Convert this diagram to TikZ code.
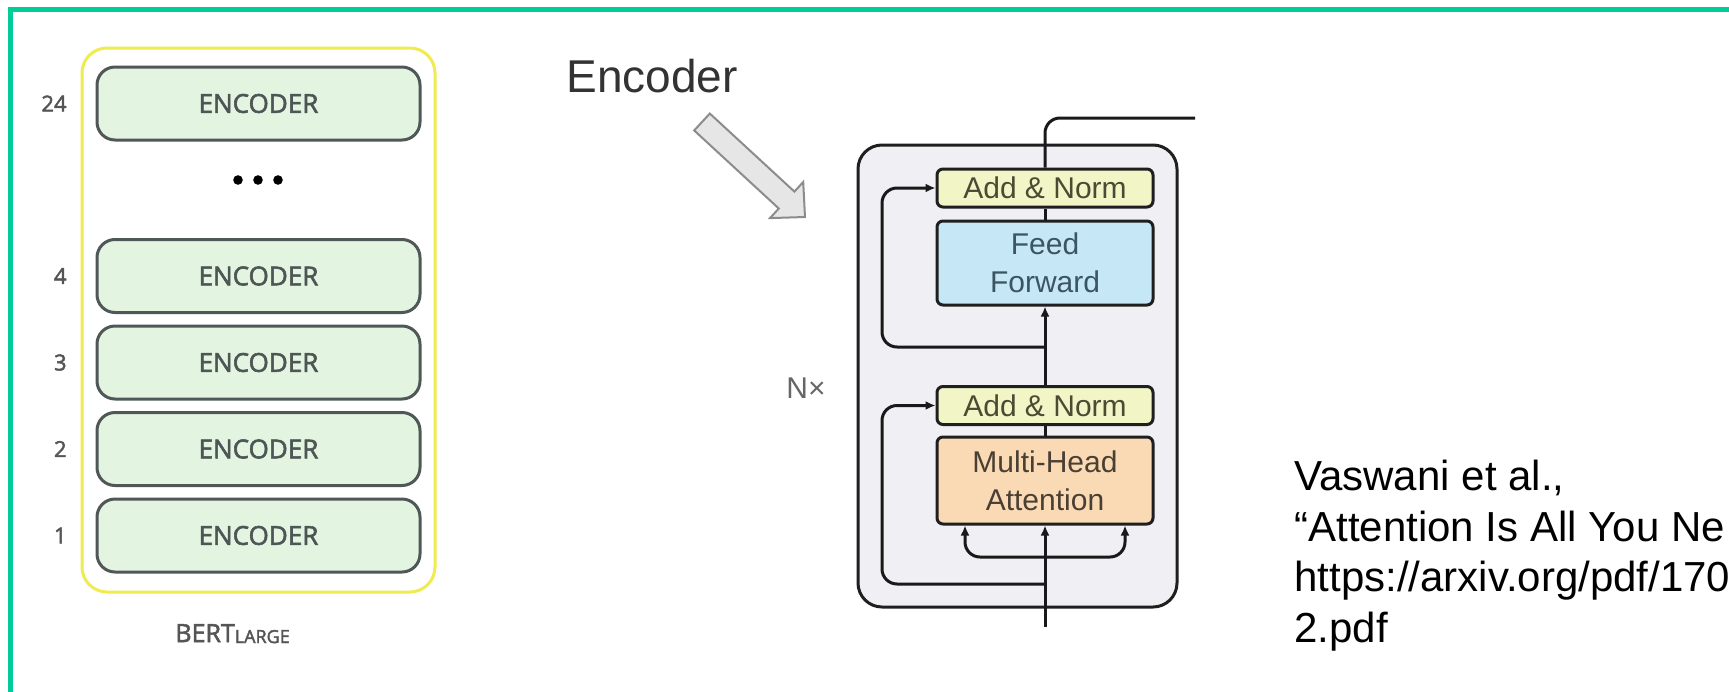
\documentclass[tikz,border=0pt]{standalone}
\usepackage{fontspec}
\setmainfont{Liberation Sans}
\newfontfamily\opensans{Open Sans}[FakeBold=2.2]
\usetikzlibrary{arrows.meta,calc}
\definecolor{framegreen}{HTML}{00CC99}
\definecolor{bertyellow}{HTML}{F0EC50}
\definecolor{encfill}{HTML}{E3F5E1}
\definecolor{encline}{HTML}{4F5757}
\definecolor{enctext}{HTML}{4D5555}
\definecolor{numtext}{HTML}{555555}
\definecolor{blockfill}{HTML}{EFEFF4}
\definecolor{anfill}{HTML}{F2F5C6}
\definecolor{antext}{HTML}{4B4B33}
\definecolor{fffill}{HTML}{C6E7F5}
\definecolor{fftext}{HTML}{3B5563}
\definecolor{mhafill}{HTML}{FAD9B5}
\definecolor{mhatext}{HTML}{4A3F33}
\definecolor{arrfill}{HTML}{E6E6E6}
\definecolor{arrline}{HTML}{8C8C8C}
\definecolor{titletext}{HTML}{333333}
\definecolor{nxtext}{HTML}{666666}
\begin{document}
\begin{tikzpicture}[x=0.5pt,y=-0.5pt,
  encbox/.style={draw=encline, fill=encfill, line width=1.5pt, rounded corners=9pt,
    minimum width=161.5pt, minimum height=36.5pt, inner sep=0pt,
    font=\opensans\fontsize{13}{15}\selectfont, text=enctext},
  numlab/.style={anchor=east, inner sep=0pt, font=\opensans\fontsize{11}{13}\selectfont, text=numtext},
  sublayer/.style={draw=black!88, line width=1.5pt, rounded corners=3pt,
    minimum width=108pt, inner sep=0pt, align=center,
    font=\fontsize{15}{19}\selectfont},
  addnorm/.style={sublayer, fill=anfill, text=antext, minimum height=19pt},
  link/.style={line width=1.5pt, draw=black!90},
  arr/.style={link, -{Latex[length=5pt,width=4.5pt]}},
  reftext/.style={anchor=base west, inner sep=0pt, font=\fontsize{21}{25}\selectfont, text=black}
]
\useasboundingbox (0,0) rectangle (1729,691);
\fill[white] (0,0) rectangle (1729,691);
\begin{scope}
\clip (0,0) rectangle (1729,691);

% frame
\draw[framegreen, line width=2.5pt] (10.5,700) -- (10.5,9.5) -- (1740,9.5);

% BERT large stack
\node[draw=bertyellow, line width=1.5pt, rounded corners=12.5pt, minimum width=176.5pt,
  minimum height=272pt, inner sep=0pt] (bertbox) at (258.5,320) {};
\node[encbox] (e24) at (258.5,103.5) {ENCODER};
\node[encbox] (e4) at (258.5,276) {ENCODER};
\node[encbox] (e3) at (258.5,362.5) {ENCODER};
\node[encbox] (e2) at (258.5,449) {ENCODER};
\node[encbox] (e1) at (258.5,535.5) {ENCODER};
\node[numlab] (n24) at (67,103.5) {24};
\node[numlab] (n4) at (67,276) {4};
\node[numlab] (n3) at (67,362.5) {3};
\node[numlab] (n2) at (67,449) {2};
\node[numlab] (n1) at (67,535.5) {1};
\fill[black] (238,180) circle[radius=2.4pt] (258,180) circle[radius=2.4pt] (278,180) circle[radius=2.4pt];
\node[anchor=base west, inner sep=0pt, font=\opensans\fontsize{12.5}{14}\selectfont, text=numtext]
  (bert) at (175,642) {BERT{\fontsize{9}{10}\selectfont\raisebox{-0.5pt}{LARGE}}};

% Encoder title and fat arrow
\node[anchor=base west, inner sep=0pt, font=\fontsize{23}{27}\selectfont, text=titletext] (enctitle) at (566,92) {Encoder};
\draw[fill=arrfill, draw=arrline, line width=1pt, line join=miter]
  (709.8,113.55) -- (794.4,191.6) -- (803.2,182.0) -- (805,217) -- (770.0,218.1)
  -- (778.8,208.5) -- (694.2,130.45) -- cycle;

% Transformer encoder block
\node[draw=black!88, fill=blockfill, line width=1.5pt, rounded corners=12pt,
  minimum width=159.5pt, minimum height=231pt, inner sep=0pt] (block) at (1017.5,376) {};
\node[font=\fontsize{15}{17}\selectfont, text=nxtext] (nx) at (806,388) {N×};

\node[addnorm] (an2) at (1045,188) {Add \& Norm};
\node[sublayer, fill=fffill, text=fftext, minimum height=42pt] (ff) at (1045,263) {Feed\\Forward};
\node[addnorm] (an1) at (1045,405.5) {Add \& Norm};
\node[sublayer, fill=mhafill, text=mhatext, minimum height=43.5pt] (mha) at (1045,480.5) {Multi-Head\\Attention};

\coordinate (in) at (1045,627);
\coordinate (out) at (1195,118);
\coordinate (res2) at (1045,347);
\coordinate (r2c) at (882,347);
\coordinate (res1) at (1045,584);
\coordinate (r1c) at (882,584);
\coordinate (br) at (1045,557);

\draw[arr] (in) -- (mha.south);
\draw[link] (mha.north) -- (an1.south);
\draw[arr] (an1.north) -- (ff.south);
\draw[link] (ff.north) -- (an2.south);
\draw[link, rounded corners=7.5pt] (an2.north) |- (out);
\draw[arr, rounded corners=7.5pt] (res2) -- (r2c) |- (an2.west);
\draw[arr, rounded corners=7.5pt] (res1) -- (r1c) |- (an1.west);
\draw[arr, rounded corners=7.5pt] (br) -| ($(mha.south)+(-80,0)$);
\draw[arr, rounded corners=7.5pt] (br) -| ($(mha.south)+(80,0)$);

% reference text
\node[reftext] (ref1) at (1294,490) {Vaswani et al.,};
\node[reftext] (ref2) at (1294,541) {“Attention Is All You Ne};
\node[reftext] (ref3) at (1294,591.5) {https://arxiv.org/pdf/170};
\node[reftext] (ref4) at (1294,642) {2.pdf};
\end{scope}
\end{tikzpicture}
\end{document}
